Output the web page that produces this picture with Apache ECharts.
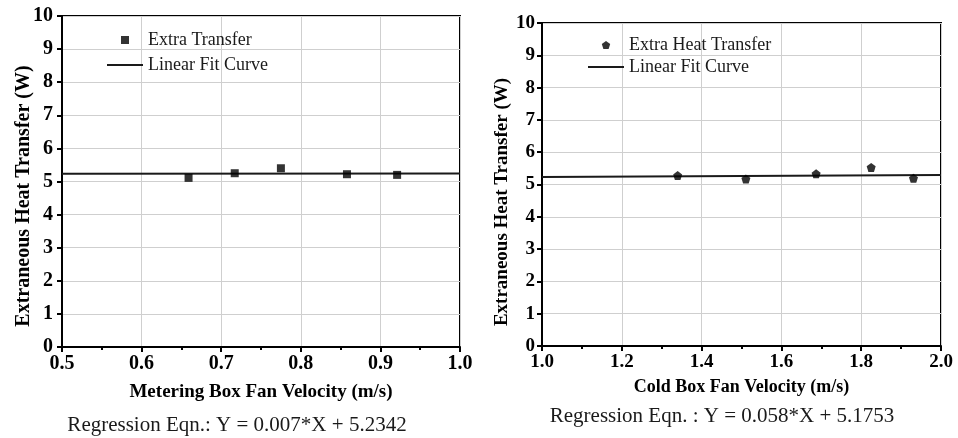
<!DOCTYPE html>
<html>
<head>
<meta charset="utf-8">
<script src="https://cdn.jsdelivr.net/npm/echarts@6/dist/echarts.min.js"></script>
<style>
  html, body { margin: 0; padding: 0; background: #fff; }
  #chart { width: 958px; height: 438px; }
</style>
</head>
<body>
<div id="chart"></div>
<script>
// Metering box: fan velocity (m/s) vs extraneous heat transfer (W)
const meteringVelocity = [0.659, 0.717, 0.775, 0.858, 0.921];
const meteringHeat     = [5.11, 5.25, 5.40, 5.22, 5.20];
// Linear fit Y = 0.007*X + 5.2342, evaluated at the axis ends
const meteringFitX = [0.5, 1.0];
const meteringFitY = [5.2377, 5.2412];

// Cold box: fan velocity (m/s) vs extraneous heat transfer (W)
const coldVelocity = [1.340, 1.511, 1.687, 1.825, 1.931];
const coldHeat     = [5.28, 5.17, 5.33, 5.53, 5.19];
// Linear fit Y = 0.058*X + 5.1753, evaluated at the axis ends
const coldFitX = [1.0, 2.0];
const coldFitY = [5.2333, 5.2913];

const meteringEqn = 'Regression Eqn.: Y = 0.007*X + 5.2342';
const coldEqn = 'Regression Eqn. : Y = 0.058*X + 5.1753';
const yTitle = 'Extraneous Heat Transfer (W)';

const serif = "'Liberation Serif', 'Times New Roman', serif";
const pentagon = 'path://M0,-1 L0.951,-0.309 L0.588,0.809 L-0.588,0.809 L-0.951,-0.309 Z';
const square = 'path://M0,0 L1,0 L1,1 L0,1 Z';
const lineIcon = 'path://M0,0 L36,0 L36,2 L0,2 Z';

const zip = (xs, ys) => xs.map((x, i) => [x, ys[i]]);

function xAxisFor(gridIndex, min, max, interval, name, nameSize, labelSize, nameGap) {
  return {
    type: 'value', gridIndex, min, max, interval,
    name, nameLocation: 'middle', nameGap,
    nameTextStyle: { fontFamily: serif, fontWeight: 'bold', fontSize: nameSize, color: '#000' },
    axisLine: { show: true, onZero: false, lineStyle: { color: '#000', width: 2 } },
    axisTick: { show: true, length: 5, lineStyle: { color: '#000', width: 2 } },
    minorTick: { show: true, splitNumber: 2, length: 3, lineStyle: { color: '#000', width: 2 } },
    axisLabel: {
      margin: 7, fontFamily: serif, fontWeight: 'bold', fontSize: labelSize, color: '#000',
      formatter: v => v.toFixed(1)
    },
    splitLine: { show: true, lineStyle: { color: '#cfcfcf', width: 1 } }
  };
}

function yAxisFor(gridIndex, labelSize, margin) {
  return {
    type: 'value', gridIndex, min: 0, max: 10, interval: 1,
    axisLine: { show: true, onZero: false, lineStyle: { color: '#000', width: 2 } },
    axisTick: { show: true, length: 5, lineStyle: { color: '#000', width: 2 } },
    axisLabel: { margin, fontFamily: serif, fontWeight: 'bold', fontSize: labelSize, color: '#000' },
    splitLine: { show: true, lineStyle: { color: '#cfcfcf', width: 1 } }
  };
}

function legendFor(left, top, gap, items) {
  return {
    orient: 'vertical', left, top, itemGap: gap, padding: 0,
    itemWidth: 36, itemHeight: 8, symbolKeepAspect: true,
    data: items,
    textStyle: { fontFamily: serif, fontSize: 18, color: '#1a1a1a', lineHeight: 18 },
    selectedMode: false
  };
}

const option = {
  backgroundColor: '#fff',
  animation: false,
  grid: [
    { left: 62, top: 16, width: 398, height: 331, show: true, borderColor: '#000', borderWidth: 2, backgroundColor: 'transparent' },
    { left: 542, top: 23, width: 399, height: 323, show: true, borderColor: '#000', borderWidth: 2, backgroundColor: 'transparent' }
  ],
  xAxis: [
    xAxisFor(0, 0.5, 1.0, 0.1, 'Metering Box Fan Velocity (m/s)', 19, 20, 36),
    xAxisFor(1, 1.0, 2.0, 0.2, 'Cold Box Fan Velocity (m/s)', 18, 19, 32)
  ],
  yAxis: [ yAxisFor(0, 20, 9), yAxisFor(1, 19, 7) ],
  legend: [
    legendFor(107, 31, 7, [
      { name: 'Extra Transfer', icon: square },
      { name: 'Linear Fit Curve ', icon: lineIcon }
    ]),
    legendFor(588, 36, 4, [
      { name: 'Extra Heat Transfer', icon: pentagon },
      { name: 'Linear Fit Curve', icon: lineIcon }
    ])
  ],
  title: [
    { text: meteringEqn, left: 232, top: 410, textAlign: 'center',
      textStyle: { fontFamily: serif, fontWeight: 'normal', fontSize: 21, color: '#1a1a1a' } },
    { text: coldEqn, left: 717, top: 401, textAlign: 'center',
      textStyle: { fontFamily: serif, fontWeight: 'normal', fontSize: 21, color: '#1a1a1a' } }
  ],
  graphic: [
    { type: 'text', x: 24, y: 196, rotation: Math.PI / 2,
      style: { text: yTitle, fontFamily: serif, fontWeight: 'bold', fontSize: 20, fill: '#000',
               textAlign: 'center', textVerticalAlign: 'middle' } },
    { type: 'text', x: 502, y: 202, rotation: Math.PI / 2,
      style: { text: yTitle, fontFamily: serif, fontWeight: 'bold', fontSize: 19, fill: '#000',
               textAlign: 'center', textVerticalAlign: 'middle' } }
  ],
  series: [
    { name: 'Linear Fit Curve ', type: 'line', xAxisIndex: 0, yAxisIndex: 0,
      data: zip(meteringFitX, meteringFitY), symbol: 'none',
      lineStyle: { color: '#1a1a1a', width: 2 }, itemStyle: { color: '#1a1a1a' }, z: 3 },
    { name: 'Extra Transfer', type: 'scatter', xAxisIndex: 0, yAxisIndex: 0,
      data: zip(meteringVelocity, meteringHeat), symbol: 'rect', symbolSize: 8,
      itemStyle: { color: '#000' }, z: 4 },
    { name: 'Linear Fit Curve', type: 'line', xAxisIndex: 1, yAxisIndex: 1,
      data: zip(coldFitX, coldFitY), symbol: 'none',
      lineStyle: { color: '#1a1a1a', width: 2 }, itemStyle: { color: '#1a1a1a' }, z: 3 },
    { name: 'Extra Heat Transfer', type: 'scatter', xAxisIndex: 1, yAxisIndex: 1,
      data: zip(coldVelocity, coldHeat), symbol: pentagon, symbolSize: 9,
      itemStyle: { color: '#000' }, z: 4 }
  ]
};

const chart = echarts.init(document.getElementById('chart'), null, { renderer: 'canvas' });
chart.setOption(option);
</script>
</body>
</html>
